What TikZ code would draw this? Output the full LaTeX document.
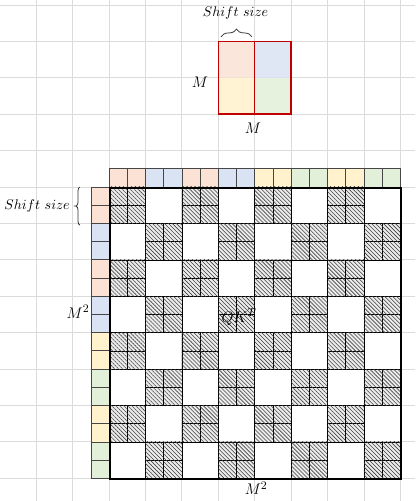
\documentclass[tikz,border=0pt]{standalone}
\usepackage{amsmath}
\usetikzlibrary{positioning,patterns.meta,decorations.pathreplacing,calc}
\definecolor{pk}{HTML}{FBE2D5}
\definecolor{bl}{HTML}{DAE3F3}
\definecolor{yl}{HTML}{FFF2CC}
\definecolor{gn}{HTML}{E2F0D9}
\definecolor{boxred}{HTML}{C00000}

\begin{document}
\begin{tikzpicture}
  [x=0.5cm, y=0.5cm,
      sheet/.style={draw=gray!28, line width=0.6pt},
      tag/.style={draw=gray!55!black, line width=0.5pt, fill=#1},
      hatchcell/.style={draw=black, line width=0.4pt, fill=gray!15,
        postaction={pattern={Lines[angle=-45, distance=2.2pt, line width=0.45pt]}, pattern color=black!75}},
      lbl/.style={font=\fontsize{12.5}{14}\selectfont, inner sep=1pt},
      shiftlbl/.style={font=\fontsize{11}{13}\selectfont, inner sep=0pt},
      curly/.style={decorate, decoration={brace, amplitude=#1}, line width=0.6pt, draw=black!80},
    ]

    \fill[white] (-5.99,-17.25) rectangle (16.81,10.27);
    \useasboundingbox (-5.99,-17.25) rectangle (16.81,10.27);
    \begin{scope}
      \clip (-5.99,-17.25) rectangle (16.81,10.27);
      \draw[sheet] (-6,-18) grid (17,11);
    \end{scope}

    % shift window
    \fill[pk, fill opacity=.85] (6,8) rectangle (8,6);
    \fill[bl, fill opacity=.85] (8,8) rectangle (10,6);
    \fill[yl, fill opacity=.85] (6,6) rectangle (8,4);
    \fill[gn, fill opacity=.85] (8,6) rectangle (10,4);
    \node (win) [draw=boxred, line width=1.2pt, minimum width=2cm, minimum height=2cm, inner sep=0pt] at (8,6) {};
    \draw [boxred, line width=1.2pt] (win.north) -- (win.south);

    \node (shifttop) [shiftlbl] at (6.95,9.56) {$Shift\ size$};
    \coordinate (bt1) at (6.15,8.25);
    \coordinate (bt2) at (7.85,8.25);
    \draw [curly=6pt] (bt1) -- (bt2);
    \node (mside) [lbl] at (5.0,5.77) {$M$};
    \node (mbelow) [lbl] at (7.9,3.25) {$M$};

    % colour tags
    \foreach \c [count=\k from 0] in {pk,pk,bl,bl,pk,pk,bl,bl,yl,yl,gn,gn,yl,yl,gn,gn}
    {
      \draw [tag=\c] (\k,0) rectangle +(1,1);
      \draw [tag=\c] (-1,-\k) rectangle +(1,-1);
    }

    % masked blocks
    \foreach \i in {0,...,7}
      \foreach \j in {0,...,7}
      {
        \ifodd\numexpr\i+\j\relax\else
          \foreach \a in {0,1}
            \foreach \b in {0,1}
              \draw [hatchcell] (2*\j+\a,-2*\i-\b) rectangle +(1,-1);
        \fi
      }

    \node (qk) [draw, line width=1.2pt, minimum size=8cm, inner sep=0pt, anchor=north west] at (0,0) {};

    \node (shiftleft) [shiftlbl] at (-3.95,-1.04) {$Shift\ size$};
    \coordinate (bl1) at (-1.6,-2.1);
    \coordinate (bl2) at (-1.6,0);
    \draw [curly=3pt] (bl1) -- (bl2);
    \coordinate (tipL) at (-1.82,-1.05);
    \draw [line width=0.6pt, black!80] (tipL) -- ([xshift=3pt]shiftleft.east);

    \node (mrows) [lbl] at (-1.70,-6.87) {$M^2$};
    \node (qkt) [lbl] at (7.14,-7.14) {$QK^T$};
    \node (mcols) [lbl] at (8.08,-16.54) {$M^2$};

  \end{tikzpicture}
\end{document}
